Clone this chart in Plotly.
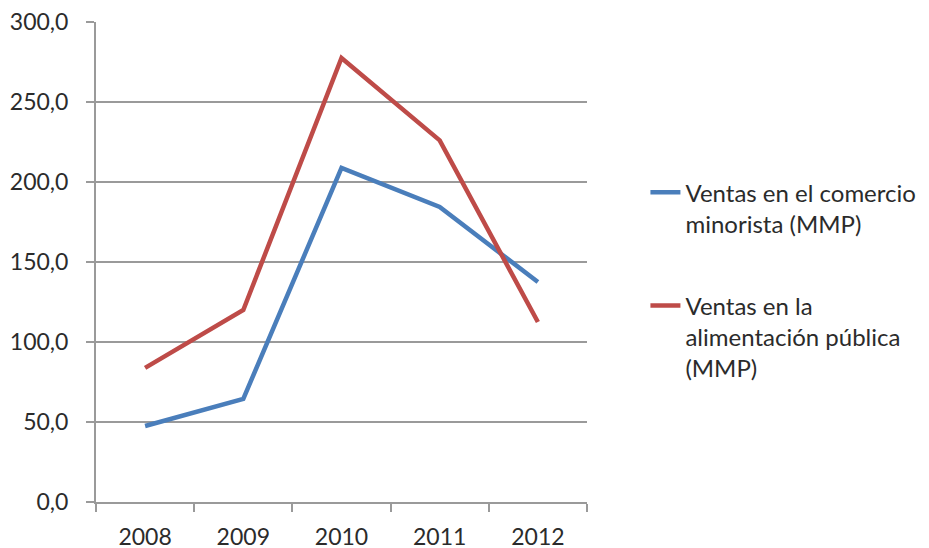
import plotly.graph_objects as go

years = ["2008", "2009", "2010", "2011", "2012"]
minorista = [47.5, 64.4, 208.8, 184.4, 137.5]
alimentacion = [83.8, 120.0, 277.5, 226.0, 112.5]

series_names = [
    "Ventas en el comercio<br>minorista (MMP)",
    "Ventas en la<br>alimentación pública<br>(MMP)",
]
series_colors = ["#4A7EBB", "#BE4B48"]

axis_grey = "#9A9A9A"
text_color = "#2B2B2B"
font_family = "Lato, 'Open Sans', sans-serif"

fig = go.Figure()
for name, values, color, group in zip(
    series_names, [minorista, alimentacion], series_colors, ["a", "b"]
):
    fig.add_trace(
        go.Scatter(
            x=years,
            y=values,
            mode="lines",
            name=name,
            legendgroup=group,
            line=dict(color=color, width=4.5),
        )
    )

# the page body adds an 8px offset; the figure is made wider than the window
# so the legend never squeezes the plot area
fig.update_layout(
    width=960,
    height=556,
    margin=dict(l=88, r=381, t=14, b=62),
    plot_bgcolor="white",
    paper_bgcolor="white",
    separators=",.",
    font=dict(family=font_family, size=23, color=text_color),
    showlegend=True,
    legend=dict(
        x=1.119,
        xanchor="left",
        y=0.4623,
        yanchor="middle",
        valign="top",
        tracegroupgap=48,
        font=dict(size=24, color=text_color),
        bgcolor="rgba(0,0,0,0)",
    ),
)
fig.update_xaxes(
    type="category",
    range=[-0.5, len(years) - 0.5],
    automargin=False,
    showline=True,
    linecolor=axis_grey,
    linewidth=2,
    showgrid=False,
    ticks="outside",
    tickson="boundaries",
    ticklen=8,
    tickwidth=2,
    tickcolor=axis_grey,
    ticklabelstandoff=13,
    ticklabeloverflow="allow",
    zeroline=False,
)
fig.update_yaxes(
    range=[0, 300],
    dtick=50,
    tickformat=".1f",
    automargin=False,
    showline=True,
    linecolor=axis_grey,
    linewidth=2,
    showgrid=True,
    gridcolor=axis_grey,
    gridwidth=2,
    ticks="outside",
    ticklen=8,
    tickwidth=2,
    tickcolor=axis_grey,
    ticklabelstandoff=13,
    ticklabeloverflow="allow",
    zeroline=False,
)

fig.write_html("out.html")
